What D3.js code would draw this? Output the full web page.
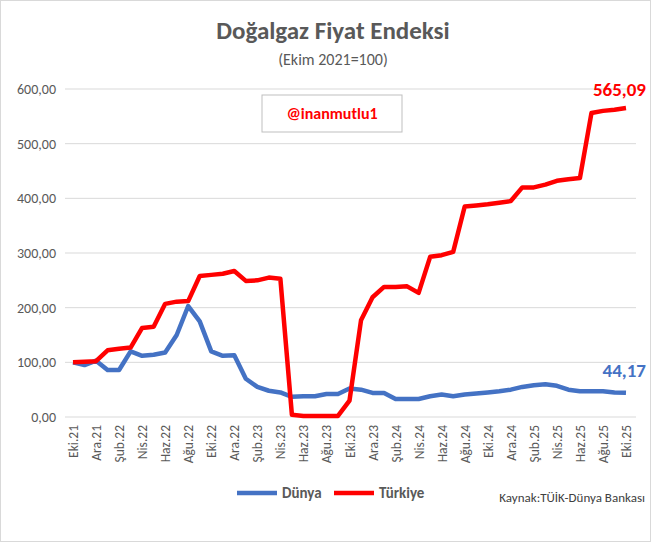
<!DOCTYPE html><html><head><meta charset="utf-8">
<script src="https://cdn.jsdelivr.net/npm/d3@7"></script>
<style>body{margin:0;background:#fff}text{font-family:Calibri,Carlito,"Liberation Sans",Arial,sans-serif}</style></head><body>
<svg id="c" width="651" height="542"></svg>
<script>
const months=["Oca","Şub","Mar","Nis","May","Haz","Tem","Ağu","Eyl","Eki","Kas","Ara"];
const dates=d3.range(49).map(i=>{const m=(9+i)%12,y=21+Math.floor((9+i)/12);return months[m]+"."+y;});
const dunya=[100,95,103,86,86,120,112,114,118,150,203,175,120,112,113,70,55,48,45,37,38,38,42,42,52,50,44,44,33,33,33,38,41,38,41,43,45,47,50,55,58,60,57,50,47,47,47,45,44.17];
const turkiye=[100,101,102,122,125,127,163,165,207,211,212,258,260,262,267,249,250,255,253,4,2,2,2,2,30,177,219,238,238,239,227,293,296,302,385,387,389,392,395,420,420,425,432,435,437,556,560,562,565.09];
const yTicks=[0,100,200,300,400,500,600];
const svg=d3.select("#c");
svg.append("rect").attr("x",0.5).attr("y",0.5).attr("width",650).attr("height",541).attr("fill","#fff").attr("stroke","#d9d9d9");
const x=d3.scalePoint().domain(dates).range([73,626]);
const y=d3.scaleLinear().domain([0,600]).range([417,89]);
svg.append("g").selectAll("line").data(yTicks).join("line").attr("x1",65).attr("x2",636).attr("y1",d=>y(d)).attr("y2",d=>y(d)).attr("stroke","#d9d9d9");
svg.append("g").selectAll("text").data(yTicks).join("text").attr("x",56).attr("y",d=>y(d)+5).attr("text-anchor","end").attr("font-size",14).attr("fill","#595959").text(d=>d3.format(".2f")(d).replace(".",","));
svg.append("g").selectAll("text").data(dates.filter((d,i)=>i%2==0)).join("text").attr("transform",d=>`translate(${x(d)+5},${425}) rotate(-90)`).attr("text-anchor","end").attr("font-size",13.5).attr("fill","#595959").text(d=>d);
const line=d3.line().x((d,i)=>x(dates[i])).y(d=>y(d));
svg.append("path").datum(dunya).attr("d",line).attr("fill","none").attr("stroke","#4472c4").attr("stroke-width",4.5).attr("stroke-linejoin","round");
svg.append("path").datum(turkiye).attr("d",line).attr("fill","none").attr("stroke","#ff0000").attr("stroke-width",4.5).attr("stroke-linejoin","round");
svg.append("text").attr("x",x(dates[48])+20).attr("y",y(565.09)-12).attr("text-anchor","end").attr("font-size",19).attr("font-weight","bold").attr("fill","#ff0000").text("565,09");
svg.append("text").attr("x",x(dates[48])+20).attr("y",y(44.17)-16).attr("text-anchor","end").attr("font-size",19).attr("font-weight","bold").attr("fill","#4472c4").text("44,17");
svg.append("text").attr("x",333).attr("y",39).attr("text-anchor","middle").attr("font-size",25).attr("font-weight","bold").attr("fill","#595959").text("Doğalgaz Fiyat Endeksi");
svg.append("text").attr("x",333).attr("y",65).attr("text-anchor","middle").attr("font-size",16).attr("fill","#595959").text("(Ekim 2021=100)");
svg.append("rect").attr("x",262).attr("y",95).attr("width",140).attr("height",37).attr("fill","#fff").attr("stroke","#bfbfbf");
svg.append("text").attr("x",332).attr("y",119).attr("text-anchor","middle").attr("font-size",16).attr("font-weight","bold").attr("fill","#ff0000").text("@inanmutlu1");
const leg=[["Dünya","#4472c4",237],["Türkiye","#ff0000",334]];
leg.forEach(([n,c,lx])=>{svg.append("line").attr("x1",lx).attr("x2",lx+40).attr("y1",493).attr("y2",493).attr("stroke",c).attr("stroke-width",4.5);
svg.append("text").attr("x",lx+45).attr("y",498).attr("font-size",15).attr("font-weight","bold").attr("fill","#595959").text(n);});
svg.append("text").attr("x",645).attr("y",502).attr("text-anchor","end").attr("font-size",13).attr("fill","#404040").text("Kaynak:TÜİK-Dünya Bankası");
</script></body></html>
